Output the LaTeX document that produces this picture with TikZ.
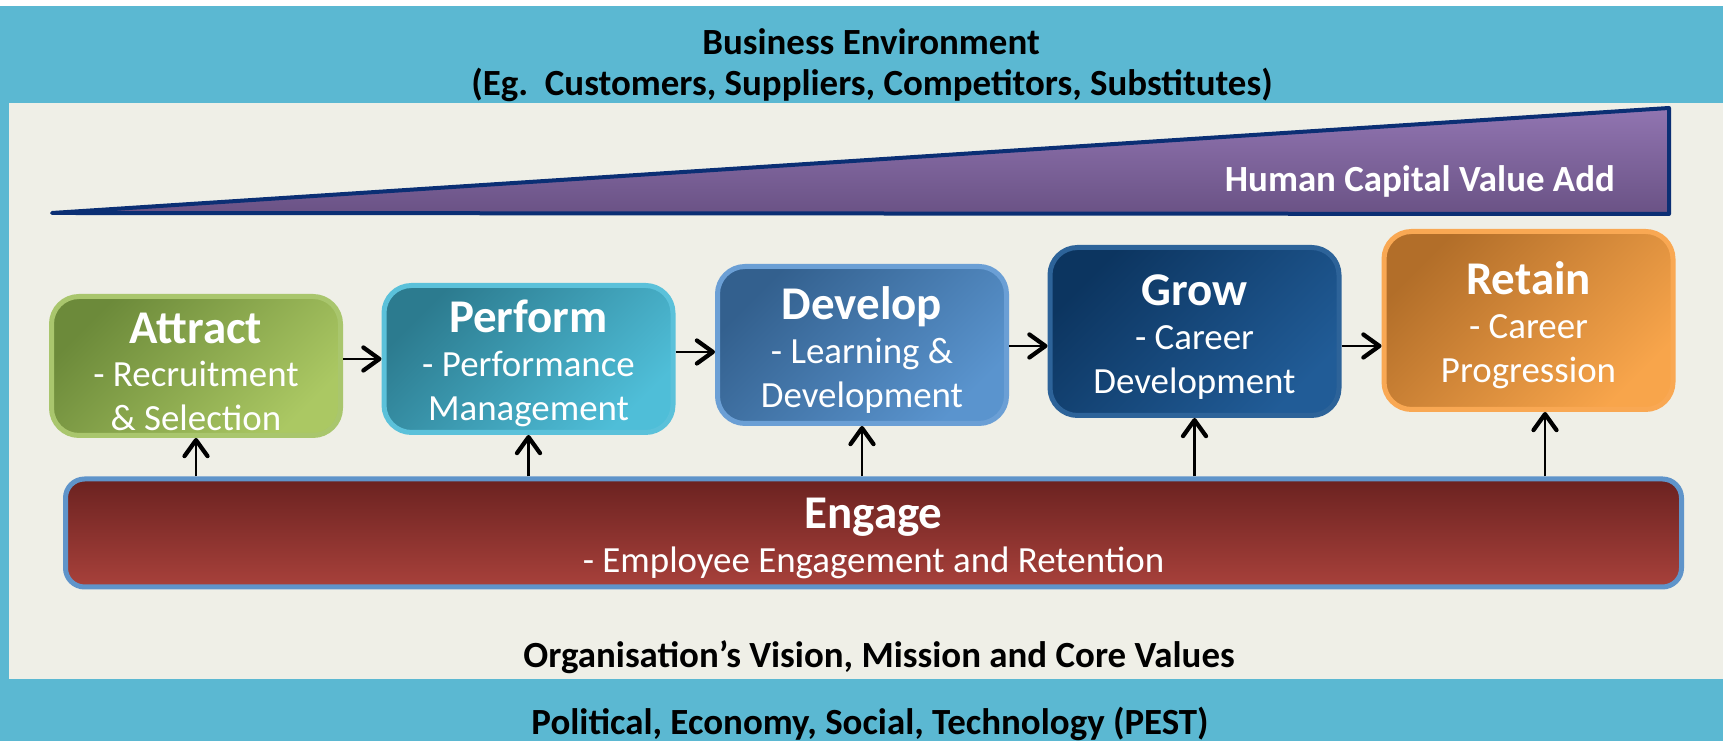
\documentclass[tikz,border=0pt]{standalone}
\usepackage{fontspec}
\setmainfont{Carlito}
\usetikzlibrary{arrows.meta, positioning}

\definecolor{band}{HTML}{5BB8D2}
\definecolor{paper}{HTML}{EFEFE7}
\definecolor{wedgeline}{HTML}{0B2F74}
\definecolor{wedgetop}{HTML}{9175B1}
\definecolor{wedgebot}{HTML}{6A5285}
\definecolor{attline}{HTML}{A9C66D}
\definecolor{attdark}{HTML}{6C8A3A}
\definecolor{attlight}{HTML}{ABC863}
\definecolor{perline}{HTML}{5BC1DA}
\definecolor{perdark}{HTML}{2C7B8F}
\definecolor{perlight}{HTML}{4FBED8}
\definecolor{devline}{HTML}{6B9FD5}
\definecolor{devdark}{HTML}{33608E}
\definecolor{devlight}{HTML}{5A94CE}
\definecolor{groline}{HTML}{2D6399}
\definecolor{grodark}{HTML}{0C3560}
\definecolor{grolight}{HTML}{215C97}
\definecolor{retline}{HTML}{F9A853}
\definecolor{retdark}{HTML}{B26E29}
\definecolor{retlight}{HTML}{F8A54B}
\definecolor{engline}{HTML}{5F94CA}
\definecolor{engtop}{HTML}{6B2220}
\definecolor{engbot}{HTML}{A8413B}

% bold first line of a box
\newcommand{\stagetitle}[1]{{\fontsize{26.7}{25}\selectfont\bfseries\rule{0pt}{24pt}#1}}

\begin{document}
\begin{tikzpicture}[
    stage/.style n args={3}{rectangle, draw=#1, line width=1mm,
                 top color=#2, bottom color=#3, shading angle=45,
                 rounded corners=5.5mm, minimum width=5.78cm,
                 inner sep=2pt, text=white, align=center,
                 font=\fontsize{21}{25}\selectfont},
    bar/.style={rectangle, draw=engline, line width=1mm,
                top color=engtop, bottom color=engbot,
                rounded corners=3.8mm, minimum width=32.32cm,
                minimum height=2.16cm, inner sep=2pt, text=white,
                align=center, font=\fontsize{21}{25}\selectfont},
    head/.style={anchor=base, font=\bfseries\fontsize{21}{25}\selectfont},
    arr/.style={-{Straight Barb[length=3.2mm, width=4.6mm, round,
                line width=0.85mm]}, line width=0.5mm},
  ]
    % Rahmen und Hintergrund
    \useasboundingbox (0,0) rectangle (34.46,14.82);
    \fill[white] (0,14.70) rectangle (34.46,14.82);
    \fill[band] (0,0) rectangle (34.46,14.70);
    \fill[paper] (0.18,1.24) rectangle (34.46,12.76);

    % Keil
    \draw[wedgeline, line width=0.8mm, line join=round, line cap=round,
          top color=wedgetop, bottom color=wedgebot]
      (1.04,10.56) -- (33.38,10.54) -- (33.38,12.66) -- cycle;
    \node[head, anchor=base east, text=white] (value)
      at (32.42,10.98) {Human Capital Value Add};

    % Stufen
    \node[stage={attline}{attdark}{attlight}, minimum height=2.78cm]
      (attract) at (3.92,7.50) {\stagetitle{Attract}\\ - Recruitment\\ \& Selection};
    \node[stage={perline}{perdark}{perlight}, minimum height=2.94cm]
      (perform) at (10.57,7.64) {\stagetitle{Perform}\\ - Performance\\ Management};
    \node[stage={devline}{devdark}{devlight}, minimum height=3.14cm]
      (develop) at (17.24,7.92) {\stagetitle{Develop}\\ - Learning \&\\ Development};
    \node[stage={groline}{grodark}{grolight}, minimum height=3.36cm]
      (grow) at (23.89,8.19) {\stagetitle{Grow}\\ - Career\\ Development};
    \node[stage={retline}{retdark}{retlight}, minimum height=3.56cm]
      (retain) at (30.57,8.41) {\stagetitle{Retain}\\ - Career\\ Progression};

    % Basis
    \node[bar] (engage) at (17.47,4.16)
      {\stagetitle{Engage}\\ - Employee Engagement and Retention};

    % Pfeile
    \foreach \a/\b/\y in {attract/perform/7.64, perform/develop/7.78,
                          develop/grow/7.90, grow/retain/7.90}
      \draw[arr] (\a.east |- 0,\y) -- (\b.west |- 0,\y);
    \foreach \s in {attract,perform,develop,grow}
      \draw[arr] (engage.north -| \s) -- (\s.south);
    \draw[arr] (engage.north -| 30.90,0) -- (retain.south -| 30.90,0);

    % Beschriftungen
    \node[head] (env) at (17.42,13.72) {Business Environment};
    \node[head] (envsub) at (17.44,12.90)
      {(Eg.\ \ Customers, Suppliers, Competitors, Substitutes)};
    \node[head] (vision) at (17.58,1.46)
      {Organisation’s Vision, Mission and Core Values};
    \node[head] (pest) at (17.40,0.12)
      {Political, Economy, Social, Technology (PEST)};
\end{tikzpicture}
\end{document}
